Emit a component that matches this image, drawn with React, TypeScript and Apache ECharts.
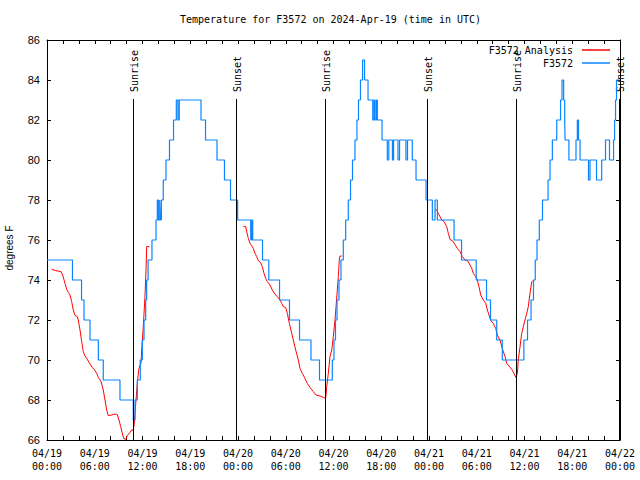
import React, { useEffect, useRef } from 'react';
import * as echarts from 'echarts';

const titleText = 'Temperature for F3572 on 2024-Apr-19 (time in UTC)';
const yAxisName = 'degrees F';
const analysisName = 'F3572 Analysis';
const observedName = 'F3572';
const startMonth = '04';
const startDay = 19;

// hours since 04/19 00:00 UTC, temperature (F)
const analysisRun1: [number, number][] = [
  [0.59, 74.53], [1.09, 74.47], [1.76, 74.42], [1.97, 74.25], [2.26, 73.83], [2.48, 73.53], [2.68, 73.38],
  [2.89, 73.25], [3.1, 72.92], [3.3, 72.5], [3.52, 72.23], [3.81, 72.17], [3.93, 72.0], [4.15, 71.5],
  [4.36, 70.92], [4.56, 70.42], [4.78, 70.2], [4.99, 70.08], [5.28, 69.88], [5.49, 69.75], [5.69, 69.62],
  [5.94, 69.53], [6.25, 69.33], [6.45, 69.13], [6.79, 68.92], [7.07, 68.5], [7.29, 68.0], [7.5, 67.5],
  [7.7, 67.22], [8.13, 67.25], [8.54, 67.3], [8.83, 67.27], [9.05, 67.0], [9.26, 66.67], [9.51, 66.25],
  [9.68, 66.05], [9.93, 66.05], [10.09, 66.22], [10.43, 66.38], [10.64, 66.5], [10.84, 66.5], [10.97, 66.83],
  [11.15, 67.83], [11.35, 68.83], [11.52, 69.5], [11.69, 69.75], [11.81, 69.83], [11.9, 70.5], [12.1, 71.67],
  [12.31, 73.17], [12.44, 74.5], [12.53, 75.67], [12.86, 75.67],
];
const analysisRun2: [number, number][] = [
  [24.67, 76.67], [24.97, 76.67], [25.09, 76.42], [25.3, 76.08], [25.51, 75.83], [25.72, 75.72], [25.92, 75.58],
  [26.14, 75.33], [26.35, 75.17], [26.55, 74.97], [26.85, 74.87], [27.05, 74.67], [27.27, 74.33], [27.48, 74.08],
  [27.68, 73.92], [28.02, 73.75], [28.31, 73.5], [28.65, 73.3], [28.94, 73.17], [29.28, 73.0], [29.49, 72.83],
  [29.69, 72.67], [29.99, 72.63], [30.2, 72.33], [30.45, 71.83], [30.75, 71.33], [30.95, 71.0], [31.25, 70.5],
  [31.58, 70.0], [31.79, 69.58], [32.08, 69.33], [32.42, 69.08], [32.71, 68.83], [33.05, 68.63], [33.46, 68.42],
  [33.8, 68.25], [34.31, 68.2], [34.72, 68.13], [35.02, 68.08], [35.15, 68.67], [35.35, 69.33], [35.56, 70.17],
  [35.78, 70.5], [35.98, 71.17], [36.19, 72.0], [36.32, 72.67], [36.48, 73.5], [36.61, 74.17], [36.73, 75.0],
  [36.82, 75.2], [37.03, 75.2],
];
const analysisRun3: [number, number][] = [
  [48.76, 77.53], [48.97, 77.5], [49.17, 77.33], [49.38, 77.17], [49.6, 77.0], [49.89, 76.92], [50.23, 76.67],
  [50.43, 76.33], [50.64, 76.03], [50.98, 75.95], [51.27, 75.78], [51.56, 75.58], [51.9, 75.42], [52.19, 75.17],
  [52.53, 75.0], [52.87, 74.95], [53.15, 74.75], [53.37, 74.58], [53.57, 74.33], [53.87, 74.17], [54.07, 74.0],
  [54.28, 73.67], [54.5, 73.25], [54.83, 73.0], [55.13, 72.83], [55.33, 72.5], [55.54, 72.25], [55.76, 71.97],
  [56.08, 71.83], [56.38, 71.58], [56.58, 71.25], [56.92, 71.0], [57.21, 70.58], [57.55, 70.17], [57.77, 69.83],
  [58.06, 69.7], [58.4, 69.53], [58.68, 69.33], [58.93, 69.12], [59.1, 69.33], [59.22, 70.0], [59.44, 70.67],
  [59.65, 71.33], [59.85, 71.67], [60.06, 72.0], [60.28, 72.33], [60.48, 72.67], [60.69, 73.33], [60.91, 73.92],
  [61.03, 73.95],
];

// observed station reading changes (value holds until next change)
const observed: [number, number][] = [
  [0, 75], [3.2, 74], [4.34, 73], [4.65, 72], [5.4, 71], [6.45, 70], [7.07, 69], [9.17, 68], [10.84, 67],
  [11.06, 68], [11.35, 69], [11.72, 70], [11.98, 71], [12.19, 72], [12.4, 73], [12.52, 74], [12.7, 75],
  [13.19, 76], [13.7, 77], [13.86, 78], [13.99, 77], [14.16, 78], [14.24, 77], [14.37, 78], [14.61, 79],
  [14.95, 80], [15.39, 81], [15.9, 82], [16.25, 83], [16.45, 82], [16.62, 83], [19.35, 82], [19.92, 81],
  [21.36, 80], [22.3, 79], [23.06, 78], [23.95, 77], [25.6, 76], [25.72, 77], [25.85, 76], [27.08, 75],
  [27.87, 74], [29.22, 73], [30.47, 72], [31.73, 71], [33.17, 70], [34.24, 69], [35.85, 70], [36.06, 71],
  [36.25, 72], [36.44, 73], [36.69, 74], [36.94, 75], [37.23, 76], [37.53, 77], [37.86, 78], [38.14, 79],
  [38.39, 80], [38.7, 81], [38.95, 82], [39.14, 83], [39.39, 84], [39.65, 85], [39.9, 84], [40.34, 83],
  [40.93, 82], [41.1, 83], [41.22, 82], [41.4, 83], [41.51, 82], [42.1, 81], [42.76, 80], [42.95, 81],
  [43.4, 80], [43.55, 81], [44.1, 80], [44.3, 81], [45.1, 80], [45.3, 81], [45.9, 80], [46.37, 79],
  [47.63, 78], [48.42, 77], [48.76, 78], [49.05, 77], [51.15, 76], [52.09, 75],
  [53.93, 74], [55.23, 73], [55.73, 72], [56.51, 71], [57.21, 70], [59.92, 71], [60.38, 72], [60.82, 73],
  [61.13, 74], [61.35, 75], [61.57, 76], [61.86, 77], [62.26, 78], [62.96, 79], [63.21, 80], [63.5, 81],
  [64.05, 82], [64.53, 83], [64.71, 84], [64.92, 83], [65.05, 82], [65.1, 81], [65.58, 80], [66.47, 81],
  [66.64, 82], [66.79, 81], [66.98, 80], [68.04, 79], [68.23, 80], [69.05, 79], [69.7, 80], [70.18, 81],
  [70.68, 80], [71.19, 81], [71.32, 82], [71.44, 83], [71.56, 84], [72, 84],
];

const sunLabels = ['Sunrise', 'Sunset', 'Sunrise', 'Sunset', 'Sunrise', 'Sunset'];
const sunHours = [10.84, 23.8, 34.99, 47.79, 58.97, 71.92];
const sunLineTop = 83.05;
const sunLabelBase = 83.4;

const xMin = 0;
const xMax = 72;
const xInterval = 6;
const yMin = 66;
const yMax = 86;
const yInterval = 2;

const mono = 'DejaVu Sans Mono';
const sans = 'Liberation Sans';

function hourLabel(h: number): string {
  const day = startDay + Math.floor(h / 24);
  const hh = Math.round(h % 24);
  return `${startMonth}/${day}\n${String(hh).padStart(2, '0')}:00`;
}

export default function App() {
  const ref = useRef<HTMLDivElement>(null);
  useEffect(() => {
    document.body.style.margin = '0';
    if (!ref.current) return;
    const chart = echarts.init(ref.current, null, { renderer: 'svg' });
    const axisLineStyle = { color: '#000', width: 1 };
    const xCommon = {
      type: 'value' as const,
      min: xMin,
      max: xMax,
      interval: xInterval,
      axisLine: { show: true, onZero: false, lineStyle: axisLineStyle },
      axisTick: { show: true, inside: true, length: 4, lineStyle: axisLineStyle },
      minorTick: { show: true, splitNumber: 3, length: 4, lineStyle: axisLineStyle },
      splitLine: { show: false },
      minorSplitLine: { show: false },
    };
    const yCommon = {
      type: 'value' as const,
      min: yMin,
      max: yMax,
      interval: yInterval,
      axisLine: { show: true, onZero: false, lineStyle: axisLineStyle },
      axisTick: { show: true, inside: true, length: 4, lineStyle: axisLineStyle },
      splitLine: { show: false },
    };
    const red = '#ff0000';
    const blue = '#0a84ff';
    const analysisSeries = [analysisRun1, analysisRun2, analysisRun3].map((run) => ({
      type: 'line' as const,
      name: analysisName,
      data: run,
      showSymbol: false,
      symbol: 'none',
      color: red,
      lineStyle: { color: red, width: 1 },
      silent: true,
    }));
    chart.setOption({
      animation: false,
      backgroundColor: '#ffffff',
      title: {
        text: titleText,
        left: 180,
        top: 14,
        padding: 0,
        textStyle: { fontFamily: mono, fontSize: 10, fontWeight: 'normal', color: '#000' },
      },
      legend: {
        data: [
          { name: analysisName, icon: 'rect', itemStyle: { color: red } },
          { name: observedName, icon: 'rect', itemStyle: { color: blue } },
        ],
        orient: 'vertical',
        align: 'right',
        right: 30,
        top: 44,
        padding: 0,
        itemWidth: 28,
        itemHeight: 1.5,
        itemGap: 1,
        textStyle: { fontFamily: mono, fontSize: 10, color: '#000', lineHeight: 12, padding: [0, 4, 0, 0] },
      },
      grid: { left: 47, right: 20, top: 40, bottom: 40, containLabel: false, outerBoundsMode: 'none' },
      xAxis: [
        {
          ...xCommon,
          position: 'bottom',
          axisLabel: {
            formatter: (v: number) => hourLabel(v),
            fontFamily: mono,
            fontSize: 10,
            lineHeight: 13,
            color: '#000',
            margin: 7,
            showMinLabel: true,
            showMaxLabel: true,
          },
        },
        { ...xCommon, position: 'top', axisLabel: { show: false } },
      ],
      yAxis: [
        {
          ...yCommon,
          position: 'left',
          name: yAxisName,
          nameLocation: 'middle',
          nameGap: 33,
          nameTextStyle: { fontFamily: sans, fontSize: 10, color: '#000', padding: [0, 16, 0, 0] },
          axisLabel: { fontFamily: sans, fontSize: 11, color: '#000', margin: 7 },
        },
        { ...yCommon, position: 'right', axisLabel: { show: false } },
      ],
      series: [
        ...analysisSeries,
        {
          type: 'line',
          name: observedName,
          data: observed,
          step: 'end',
          showSymbol: false,
          symbol: 'none',
          color: blue,
          lineStyle: { color: blue, width: 1.2 },
          silent: true,
          markLine: {
            silent: true,
            symbol: ['none', 'none'],
            label: { show: false },
            lineStyle: { color: '#000', width: 1, type: 'solid' },
            emphasis: { disabled: true },
            data: sunHours.map((h) => [{ coord: [h, yMin] }, { coord: [h, sunLineTop] }]),
          },
        },
      ],
    });
    const graphics = sunHours.map((h, i) => {
      const p = chart.convertToPixel({ xAxisIndex: 0, yAxisIndex: 0 }, [h, sunLabelBase]) as number[];
      return {
        type: 'text',
        x: p[0] + 1.5,
        y: p[1],
        rotation: Math.PI / 2,
        silent: true,
        style: {
          text: sunLabels[i],
          fill: '#000',
          fontFamily: mono,
          fontSize: 10,
          align: 'left',
          verticalAlign: 'middle',
        },
      };
    });
    chart.setOption({ graphic: graphics });
    return () => chart.dispose();
  }, []);
  return <div ref={ref} style={{ width: 640, height: 480 }} />;
}
